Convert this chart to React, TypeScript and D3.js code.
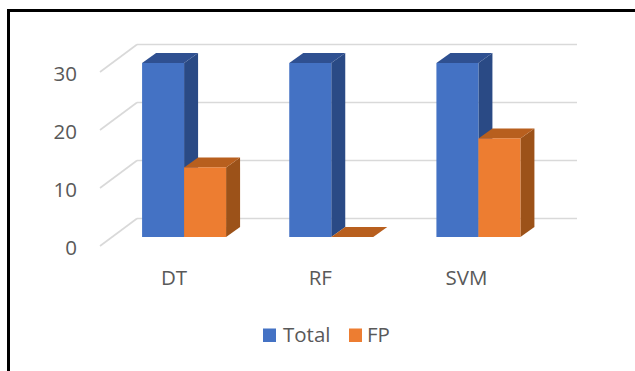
import React from "react";
import * as d3 from "d3";

const categories = ["DT", "RF", "SVM"];
const totalValues = [30, 30, 30];
const fpValues = [12, 0, 17];
const yTicks = [0, 10, 20, 30];

const seriesColors = {
  Total: { front: "#4472c4", side: "#2a4a85", top: "#2f5091" },
  FP: { front: "#ed7d31", side: "#9c5219", top: "#b85f1e" },
};

const width = 635;
const height = 371;
const floorY = 237;
const topY = 63;
const depthX = 14;
const depthY = 10;

const y = d3.scaleLinear().domain([0, 30]).range([floorY, topY]);
const x = d3.scaleBand().domain(categories).range([110.5, 552]).paddingInner(0.3).paddingOuter(0.15);

// Grid lines sit on the back wall; the spurs run forward along the side wall.
const wallDx = 37;
const wallFrontX = 100;
const wallFrontOffset = 9;
const wallBackOffset = -18.5;

function Bar3D({ x0, w, value, colors }: { x0: number; w: number; value: number; colors: typeof seriesColors.Total }) {
  const yt = y(value);
  const x1 = x0 + w;
  const poly = (pts: [number, number][]) => {
    const p = d3.path();
    pts.forEach(([a, b], i) => (i ? p.lineTo(a, b) : p.moveTo(a, b)));
    p.closePath();
    return p.toString();
  };
  return (
    <g>
      <path d={poly([[x1, yt], [x1 + depthX, yt - depthY], [x1 + depthX, floorY - depthY], [x1, floorY]])} fill={colors.side} />
      <path d={poly([[x0, yt], [x0 + depthX, yt - depthY], [x1 + depthX, yt - depthY], [x1, yt]])} fill={colors.top} />
      {value > 0 && <rect x={x0} y={yt} width={w} height={floorY - yt} fill={colors.front} />}
    </g>
  );
}

export default function App() {
  const sans = "'Open Sans', 'Noto Sans', sans-serif";
  const barW = 42;
  const starts: Record<string, number> = {};
  categories.forEach((c) => {
    starts[c] = (x(c) as number) + x.bandwidth() / 2 - barW;
  });
  return (
    <svg
      width={width}
      height={height}
      style={{ position: "absolute", left: 0, top: 0, background: "#fff" }}
      fontFamily={sans}
    >
      <rect x={8.5} y={10.5} width={640} height={380} fill="#fff" stroke="#000" strokeWidth={3} />
      {yTicks.map((t) => {
        const yy = y(t);
        return (
          <g key={t} stroke="#d9d9d9" strokeWidth={1.6} fill="none">
            <line x1={wallFrontX} y1={yy + wallFrontOffset} x2={wallFrontX + wallDx} y2={yy + wallBackOffset} />
            <line x1={wallFrontX + wallDx} y1={yy + wallBackOffset} x2={577} y2={yy + wallBackOffset} />
          </g>
        );
      })}
      {yTicks.map((t) => (
        <text key={t} x={77} y={y(t) + 18} textAnchor="end" fontSize={20.5} fill="#595959">
          {t}
        </text>
      ))}
      {categories.map((c, i) => (
        <g key={c}>
          <Bar3D x0={starts[c]} w={barW} value={totalValues[i]} colors={seriesColors.Total} />
          <Bar3D x0={starts[c] + barW} w={barW} value={fpValues[i]} colors={seriesColors.FP} />
          <text x={starts[c] + barW - 10 - i} y={285} textAnchor="middle" fontSize={20.5} fill="#595959">
            {c}
          </text>
        </g>
      ))}
      <rect x={263} y={328.5} width={13} height={13.5} fill={seriesColors.Total.front} />
      <text x={283} y={342} fontSize={20.5} fill="#595959">Total</text>
      <rect x={349} y={328.5} width={13} height={13.5} fill={seriesColors.FP.front} />
      <text x={367} y={342} fontSize={20.5} fill="#595959">FP</text>
    </svg>
  );
}
